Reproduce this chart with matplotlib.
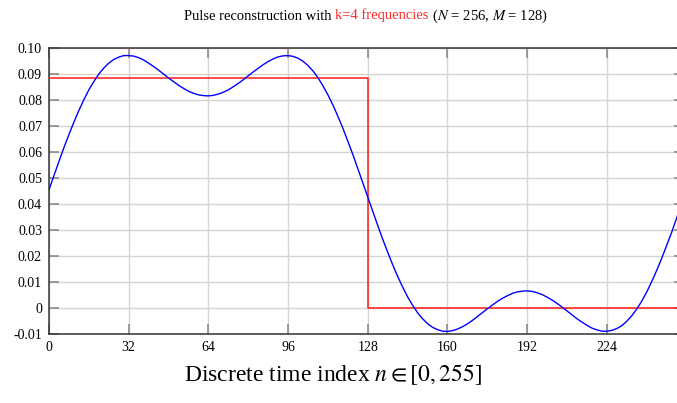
import numpy as np
import matplotlib
matplotlib.use("Agg")
import matplotlib.pyplot as plt
from matplotlib.offsetbox import TextArea, HPacker, AnnotationBbox

plt.rcParams['font.family'] = ['Liberation Serif', 'DejaVu Serif']
plt.rcParams['mathtext.fontset'] = 'stix'

# ==================== DATOS ====================
# indices n (cada 2 muestras) y valores leidos de la curva azul
n_rec = list(range(0, 256, 2))
x_rec = [0.0456, 0.0511, 0.0565, 0.0618, 0.0668, 0.0716, 0.0761, 0.0802,
         0.0840, 0.0872, 0.0901, 0.0924, 0.0943, 0.0957, 0.0966, 0.0972,
         0.0972, 0.0970, 0.0964, 0.0955, 0.0943, 0.0930, 0.0916, 0.0901,
         0.0886, 0.0872, 0.0858, 0.0846, 0.0835, 0.0827, 0.0821, 0.0818,
         0.0817, 0.0819, 0.0824, 0.0831, 0.0840, 0.0852, 0.0865, 0.0879,
         0.0894, 0.0909, 0.0923, 0.0937, 0.0949, 0.0959, 0.0967, 0.0971,
         0.0972, 0.0969, 0.0962, 0.0950, 0.0934, 0.0913, 0.0887, 0.0856,
         0.0821, 0.0782, 0.0739, 0.0693, 0.0643, 0.0592, 0.0538, 0.0483,
         0.0428, 0.0373, 0.0319, 0.0266, 0.0216, 0.0168, 0.0123, 0.0082,
         0.0044, 0.0012, -0.0017, -0.0040, -0.0059, -0.0073, -0.0082, -0.0088,
         -0.0089, -0.0086, -0.0080, -0.0071, -0.0060, -0.0047, -0.0032, -0.0017,
         -0.0002, 0.0012, 0.0026, 0.0038, 0.0048, 0.0057, 0.0063, 0.0066,
         0.0067, 0.0065, 0.0060, 0.0053, 0.0043, 0.0032, 0.0019, 0.0005,
         -0.0010, -0.0025, -0.0040, -0.0053, -0.0065, -0.0076, -0.0083, -0.0088,
         -0.0088, -0.0085, -0.0078, -0.0067, -0.0050, -0.0029, -0.0003, 0.0027,
         0.0062, 0.0102, 0.0145, 0.0191, 0.0241, 0.0291, 0.0346, 0.0401]

# pulso original (escalones)
n_pulse = [0, 128, 256]
x_pulse = [0.0884, 0.0, 0.0]

x_ticks = [0, 32, 64, 96, 128, 160, 192, 224]
y_ticks = [-0.01, 0, 0.01, 0.02, 0.03, 0.04, 0.05, 0.06, 0.07, 0.08, 0.09, 0.10]
y_labels = ['-0.01', '0', '0.01', '0.02', '0.03', '0.04', '0.05', '0.06',
            '0.07', '0.08', '0.09', '0.10']

# ==================== FIGURA ====================
W, H = 677, 403
fig = plt.figure(figsize=(W / 100, H / 100), dpi=100)
ax = fig.add_axes([49 / W, 1 - 334.3 / H, (684 - 49) / W, (334.3 - 48.3) / H])

ax.step(n_pulse, x_pulse, where='post', color='#ff1a1a', linewidth=1.1, zorder=3)
ax.plot(n_rec, x_rec, color='#0000ff', linewidth=1.0, zorder=4)

ax.set_xlim(0, 255)
ax.set_ylim(-0.01, 0.10)
ax.set_xticks(x_ticks)
ax.set_yticks(y_ticks)
ax.set_yticklabels(y_labels)

ax.grid(True, color='#d4d4d4', linewidth=1.0)
ax.set_axisbelow(True)
ax.tick_params(direction='in', length=7.5, width=1.2, color='#8c8c8c',
               top=True, right=True, labelsize=10, pad=5)
for s in ax.spines.values():
    s.set_color('#333333')
    s.set_linewidth(1.1)

# titulo con parte en rojo
tp = dict(fontsize=10.5)
partes = [TextArea("Pulse reconstruction with ", textprops=dict(color='black', **tp)),
          TextArea("k=4 frequencies", textprops=dict(color='#ff2a2a', **tp)),
          TextArea(" ($N$ = 256, $M$ = 128)", textprops=dict(color='black', **tp))]
caja = HPacker(children=partes, align='baseline', pad=0, sep=0)
ab = AnnotationBbox(caja, (366 / W, 1 - 16 / H), xycoords='figure fraction',
                    box_alignment=(0.5, 0.5), frameon=False, pad=0)
fig.add_artist(ab)

# etiqueta eje x
fig.text(333 / W, 1 - 375 / H, r"Discrete time index $n \in [0, 255]$",
         fontsize=17, ha='center', va='center')

fig.savefig("out.png", dpi=100)
